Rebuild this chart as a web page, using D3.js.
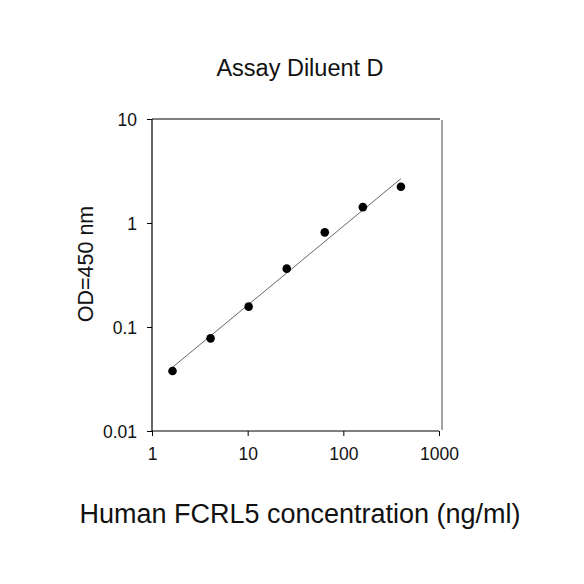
<!DOCTYPE html>
<html>
<head>
<meta charset="utf-8">
<script src="https://cdn.jsdelivr.net/npm/d3@7"></script>
<style>
  html, body { margin: 0; padding: 0; background: #fff; }
  svg { display: block; }
  text { font-family: Arial, "Liberation Sans", sans-serif; fill: #111; }
</style>
</head>
<body>
<svg id="chart" width="584" height="584"></svg>
<script>
const concentration = [1.6384, 4.096, 10.24, 25.6, 64, 160, 400];
const od450 = [0.0377, 0.0778, 0.157, 0.364, 0.813, 1.42, 2.23];
const fitX = [1.6384, 400];
const fitY = [0.041, 2.67];
const xTicks = [1, 10, 100, 1000];
const yTicks = [0.01, 0.1, 1, 10];
const xTickLabels = ["1", "10", "100", "1000"];
const yTickLabels = ["0.01", "0.1", "1", "10"];

const svg = d3.select("#chart");
const pL = 152, pR = 439, pT = 119, pB = 431;

const x = d3.scaleLog().domain([1, 1000]).range([pL, pR]);
const y = d3.scaleLog().domain([0.01, 10]).range([pB, pT]);

// frame: top and right
svg.append("line").attr("x1", pL).attr("x2", pR + 1).attr("y1", pT).attr("y2", pT)
  .attr("stroke", "#000").attr("stroke-width", 1.2);
svg.append("line").attr("x1", pR + 3).attr("x2", pR + 3).attr("y1", pT + 1).attr("y2", pB - 1)
  .attr("stroke", "#666").attr("stroke-width", 1.2);

const xAxis = d3.axisBottom(x).tickValues(xTicks)
  .tickFormat((d, i) => xTickLabels[i]).tickSizeOuter(0).tickSize(5).tickPadding(12);
const yAxis = d3.axisLeft(y).tickValues(yTicks)
  .tickFormat((d, i) => yTickLabels[i]).tickSizeOuter(0).tickSize(5).tickPadding(10);

const gx = svg.append("g").attr("transform", `translate(0,${pB})`).call(xAxis);
const gy = svg.append("g").attr("transform", `translate(${pL},0)`).call(yAxis);
[gx, gy].forEach(g => {
  g.select(".domain").attr("stroke", "#000").attr("stroke-width", 1.2);
  g.selectAll(".tick line").attr("stroke", "#000").attr("stroke-width", 1);
  g.selectAll(".tick text").style("font-family", "Arial, 'Liberation Sans', sans-serif")
    .style("font-size", "17.5px").attr("fill", "#111");
});
gy.selectAll(".tick text").attr("dy", "0.36em");
gx.select(".domain").attr("d", `M${pL},0H${pR}`);
gy.select(".domain").attr("d", `M0,${pB}V${pT}`);

// fit line
svg.append("path")
  .datum(fitX.map((v, i) => [v, fitY[i]]))
  .attr("d", d3.line().x(d => x(d[0])).y(d => y(d[1])))
  .attr("fill", "none").attr("stroke", "#666").attr("stroke-width", 1);

// points
svg.append("g").selectAll("circle")
  .data(concentration.map((c, i) => [c, od450[i]]))
  .join("circle")
  .attr("cx", d => x(d[0])).attr("cy", d => y(d[1]))
  .attr("r", 4.3).attr("fill", "#000");

// title
svg.append("text").attr("x", 300).attr("y", 76).attr("text-anchor", "middle")
  .style("font-size", "23.5px").text("Assay Diluent D");

// x label
svg.append("text").attr("x", 300).attr("y", 523).attr("text-anchor", "middle")
  .style("font-size", "27px").text("Human FCRL5 concentration (ng/ml)");

// y label
svg.append("text").attr("transform", "translate(93,264) rotate(-90)").attr("text-anchor", "middle")
  .style("font-size", "21.5px").text("OD=450 nm");
</script>
</body>
</html>
